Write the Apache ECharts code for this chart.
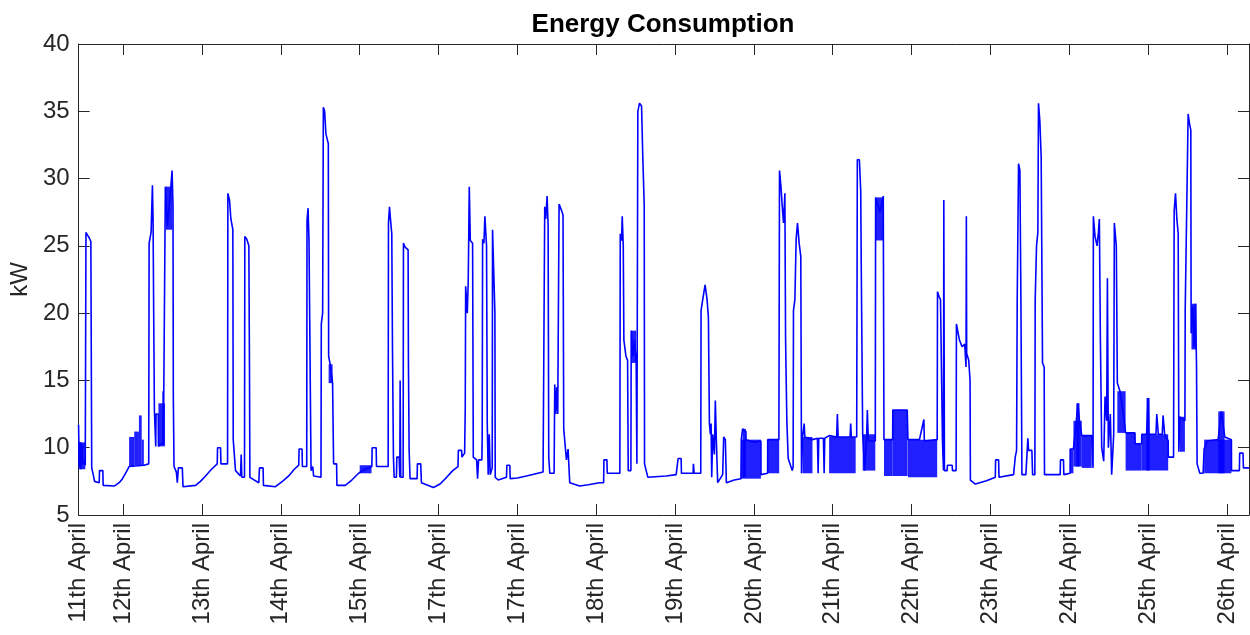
<!DOCTYPE html>
<html>
<head>
<meta charset="utf-8">
<title>Energy Consumption</title>
<script src="https://cdn.jsdelivr.net/npm/echarts@6/dist/echarts.min.js"></script>
<style>
  html, body { margin: 0; padding: 0; background: #fff; }
  #chart { width: 1250px; height: 635px; }
</style>
</head>
<body>
<div id="chart"></div>
<script>
// Time is expressed as day of April (fractional), load in kW.
const X_MIN = 11.4345;
const X_MAX = 26.28;

// Tick positions and their labels (labels kept as they appear on the axis).
const tickDays = [X_MIN, 12, 13, 14, 15, 16, 17, 18, 19, 20, 21, 22, 23, 24, 25, 26];
const tickLabels = ['11th April', '12th April', '13th April', '14th April', '15th April',
  '17th April', '17th April', '18th April', '19th April', '20th April', '21th April',
  '22th April', '23th April', '24th April', '25th April', '26th April'];

// Load profile, one list of [day, kW] readings per day.
const apr11 = [[11.434,11.7],[11.443,8.6],[11.456,10.4],[11.464,8.4],[11.477,10.3],[11.485,8.8],[11.506,9.0],[11.519,8.7],[11.527,8.7],[11.528,26.0],[11.548,25.8],[11.569,25.6],[11.59,25.3],[11.599,25.2],[11.601,8.5],[11.62,8.0],[11.637,7.5],[11.696,7.4],[11.7,8.3],[11.742,8.3],[11.746,7.2],[11.886,7.15],[11.95,7.4],[11.991,7.7]];
const apr12 = [[12.04,8.2],[12.075,8.6],[12.265,8.7],[12.324,8.8],[12.329,25.2],[12.354,26.0],[12.371,29.5],[12.379,27.0],[12.387,20.0],[12.396,12.8],[12.413,10.1],[12.417,12.5],[12.445,12.5],[12.447,10.1],[12.506,10.4],[12.507,14.2],[12.51,10.2],[12.531,10.1],[12.535,29.4],[12.561,26.5],[12.6,29.0],[12.62,30.6],[12.624,30.6],[12.632,28.0],[12.636,13.8],[12.645,8.6],[12.674,8.2],[12.687,7.4],[12.70,8.5],[12.75,8.5],[12.759,7.1],[12.919,7.2],[12.98,7.5]];
const apr13 = [[13.045,7.9],[13.12,8.4],[13.193,8.8],[13.197,10.0],[13.235,10.0],[13.24,8.8],[13.324,8.8],[13.328,28.9],[13.349,28.4],[13.366,27.0],[13.391,26.2],[13.396,10.6],[13.425,8.3],[13.488,7.9],[13.497,9.5],[13.505,7.8],[13.539,7.8],[13.543,25.7],[13.568,25.5],[13.594,25.0],[13.602,16.0],[13.607,7.8],[13.72,7.4],[13.729,8.5],[13.775,8.5],[13.779,7.2],[13.931,7.1]];
const apr14 = [[14.02,7.5],[14.1,7.9],[14.17,8.4],[14.227,8.7],[14.231,9.9],[14.269,9.9],[14.273,8.6],[14.328,8.6],[14.332,26.9],[14.345,27.8],[14.357,25.4],[14.379,25.3],[14.383,8.3],[14.404,8.6],[14.416,7.9],[14.509,7.8],[14.513,19.2],[14.53,20.0],[14.539,35.3],[14.555,35.0],[14.572,33.3],[14.602,32.6],[14.606,16.8],[14.631,16.0],[14.656,14.8],[14.669,8.8],[14.707,8.8],[14.711,7.2],[14.817,7.2],[14.9,7.6],[14.986,8.1]];
const apr15 = [[15.07,8.4],[15.154,8.6],[15.158,10.0],[15.209,10.0],[15.213,8.6],[15.361,8.6],[15.365,26.7],[15.378,27.9],[15.39,27.0],[15.407,25.9],[15.416,17.3],[15.428,9.3],[15.437,7.8],[15.466,7.8],[15.471,9.3],[15.5,9.3],[15.509,7.8],[15.513,15.0],[15.521,7.8],[15.551,7.8],[15.555,25.2],[15.576,24.9],[15.614,24.7],[15.618,16.5],[15.627,9.8],[15.639,7.7],[15.728,7.7],[15.732,8.8],[15.774,8.8],[15.783,7.4],[15.935,7.05]];
const apr16 = [[16.02,7.3],[16.103,7.8],[16.18,8.3],[16.247,8.6],[16.251,9.8],[16.293,9.8],[16.297,9.3],[16.331,9.6],[16.339,13.0],[16.344,22.0],[16.365,20.0],[16.377,22.5],[16.39,29.4],[16.403,25.4],[16.432,25.2],[16.441,9.3],[16.483,9.1],[16.495,7.7],[16.508,9.1],[16.55,9.1],[16.554,11.0],[16.559,25.5],[16.576,25.2],[16.588,27.2],[16.609,25.0],[16.618,11.8],[16.63,8.0],[16.643,11.0],[16.656,8.0],[16.681,8.5],[16.685,26.2],[16.706,26.3],[16.715,20.0],[16.719,7.8],[16.757,7.6],[16.862,7.8],[16.867,8.7],[16.904,8.7],[16.909,7.7]];
const apr17 = [[17.0,7.75],[17.115,7.9],[17.22,8.05],[17.326,8.2],[17.343,8.3],[17.347,27.9],[17.36,27.0],[17.377,28.7],[17.39,26.5],[17.398,9.3],[17.411,8.1],[17.466,8.1],[17.474,14.7],[17.487,12.5],[17.499,14.5],[17.512,12.5],[17.524,12.5],[17.529,28.1],[17.546,28.1],[17.562,27.6],[17.579,27.3],[17.588,11.4],[17.622,9.1],[17.643,9.9],[17.664,7.4],[17.79,7.15],[17.9,7.25]];
const apr18 = [[18.043,7.4],[18.094,7.4],[18.098,9.1],[18.136,9.1],[18.14,8.1],[18.3,8.1],[18.305,25.9],[18.322,25.4],[18.33,27.2],[18.343,25.0],[18.351,18.0],[18.377,16.8],[18.398,16.5],[18.406,8.3],[18.44,8.3],[18.444,18.7],[18.465,16.8],[18.486,18.0],[18.507,16.3],[18.516,8.8],[18.524,8.8],[18.528,35.0],[18.549,35.6],[18.575,35.4],[18.591,31.6],[18.609,28.0],[18.613,8.8],[18.655,7.8],[18.887,7.9]];
const apr19 = [[19.014,8.0],[19.035,8.0],[19.039,9.2],[19.077,9.2],[19.081,8.1],[19.229,8.1],[19.233,8.8],[19.242,8.1],[19.326,8.1],[19.33,20.2],[19.351,21.0],[19.381,22.1],[19.406,21.0],[19.423,19.7],[19.436,11.8],[19.448,11.0],[19.457,11.8],[19.465,7.8],[19.478,11.0],[19.499,9.5],[19.511,13.5],[19.524,10.5],[19.541,7.4],[19.604,8.0],[19.617,10.8],[19.638,10.6],[19.651,7.4],[19.75,7.6],[19.836,7.7],[19.84,10.6],[19.857,11.4],[19.899,11.2],[19.9,10.6],[20.0,10.4]];
const apr20 = [[20.089,10.5],[20.09,8.0],[20.174,8.1],[20.175,10.6],[20.317,10.6],[20.325,30.6],[20.342,29.5],[20.359,28.0],[20.376,26.7],[20.393,28.9],[20.402,18.0],[20.418,12.0],[20.435,9.2],[20.486,8.3],[20.498,8.6],[20.502,20.2],[20.52,21.0],[20.536,25.5],[20.553,26.7],[20.574,25.2],[20.595,24.2],[20.604,8.1],[20.617,10.8],[20.638,11.8],[20.646,10.8],[20.743,10.6],[20.806,10.7],[20.815,8.1],[20.823,10.7],[20.882,10.7],[20.891,8.1],[20.899,10.7],[20.954,10.9]];
const apr21 = [[21.05,10.8],[21.059,12.5],[21.068,10.8],[21.22,10.8],[21.228,11.8],[21.236,10.8],[21.304,10.8],[21.312,31.4],[21.338,31.4],[21.355,29.1],[21.363,22.7],[21.38,11.0],[21.405,8.3],[21.431,11.0],[21.439,12.8],[21.452,10.5],[21.54,10.5],[21.544,28.6],[21.6,27.5],[21.641,28.7],[21.65,10.6],[21.76,10.6],[21.762,12.8],[21.945,12.8],[21.954,10.6]];
const apr22 = [[22.1,10.6],[22.156,12.1],[22.162,10.5],[22.325,10.6],[22.329,21.6],[22.35,21.2],[22.367,21.0],[22.392,10.5],[22.405,8.3],[22.409,28.4],[22.417,8.3],[22.451,8.3],[22.455,8.7],[22.515,8.7],[22.519,8.3],[22.565,8.3],[22.569,19.2],[22.59,19.1],[22.607,18.0],[22.64,17.5],[22.674,17.7],[22.691,16.0],[22.695,27.2],[22.699,17.0],[22.725,16.5],[22.742,15.0],[22.746,7.6],[22.809,7.3],[22.95,7.55]];
const apr23 = [[23.062,7.8],[23.066,9.1],[23.104,9.1],[23.109,7.8],[23.294,8.0],[23.315,9.3],[23.332,9.8],[23.34,21.0],[23.357,31.1],[23.374,30.6],[23.387,21.0],[23.4,8.0],[23.45,8.0],[23.475,10.7],[23.484,9.8],[23.526,9.8],[23.535,8.0],[23.564,8.0],[23.568,21.0],[23.585,25.0],[23.602,26.0],[23.61,35.6],[23.627,34.3],[23.644,31.6],[23.661,16.3],[23.682,16.0],[23.686,8.0],[23.885,8.0],[23.889,9.1],[23.927,9.1],[23.931,8.0]];
const apr24 = [[24.011,8.1],[24.012,9.9],[24.053,9.9],[24.09,12.0],[24.11,13.3],[24.13,12.0],[24.159,10.9],[24.285,10.9],[24.302,8.5],[24.306,27.2],[24.327,25.7],[24.353,25.0],[24.37,26.0],[24.382,27.0],[24.395,18.0],[24.412,10.0],[24.437,9.0],[24.454,13.8],[24.475,12.0],[24.484,22.6],[24.496,10.0],[24.521,12.5],[24.538,8.0],[24.564,11.0],[24.572,26.7],[24.597,25.0],[24.61,14.8],[24.644,14.2],[24.686,12.5],[24.715,11.1],[24.834,11.1],[24.836,10.3],[24.918,10.3],[24.92,11.0],[24.981,11.0],[25.0,13.7]];
const apr25 = [[25.01,11.0],[25.1,11.0],[25.11,12.5],[25.13,11.0],[25.18,11.0],[25.19,12.4],[25.21,11.0],[25.255,10.5],[25.256,9.3],[25.323,9.3],[25.331,27.6],[25.348,28.9],[25.365,27.0],[25.382,25.9],[25.39,9.7],[25.403,12.3],[25.467,12.0],[25.471,20.3],[25.492,20.3],[25.508,34.8],[25.525,34.1],[25.542,33.6],[25.546,18.5],[25.567,20.5],[25.584,17.5],[25.601,20.7],[25.614,16.3],[25.622,8.8],[25.656,8.1],[25.698,8.1],[25.711,9.9],[25.75,10.5],[25.888,10.6],[25.93,12.7],[25.972,10.8]];
const apr26 = [[26.057,10.6],[26.058,8.3],[26.158,8.3],[26.162,9.6],[26.204,9.6],[26.209,8.5],[26.28,8.5]];

// Stretches of rapid on/off switching: [start day, end day, low kW, high kW].
const busyBlocks = [
  [11.434, 11.52, 8.4, 10.4],
  [12.075, 12.14, 8.6, 10.8],
  [12.14, 12.2, 8.7, 11.2],
  [12.2, 12.235, 8.7, 12.4],
  [12.235, 12.262, 8.7, 10.6],
  [12.447, 12.531, 10.1, 13.3],
  [12.54, 12.624, 26.2, 29.4],
  [14.606, 14.656, 14.8, 16.2],
  [15.0, 15.15, 8.1, 8.7],
  [18.444, 18.507, 16.3, 18.7],
  [19.836, 20.089, 7.7, 10.6],
  [19.857, 19.899, 7.8, 11.4],
  [20.174, 20.321, 8.1, 10.6],
  [20.617, 20.743, 8.1, 10.8],
  [20.954, 21.291, 8.1, 10.8],
  [21.38, 21.54, 8.3, 11.0],
  [21.544, 21.641, 25.4, 28.6],
  [21.65, 21.76, 7.9, 10.6],
  [21.76, 21.95, 7.9, 12.8],
  [21.954, 22.325, 7.8, 10.6],
  [24.011, 24.053, 8.1, 9.9],
  [24.053, 24.159, 8.6, 12.0],
  [24.09, 24.13, 8.6, 13.3],
  [24.159, 24.285, 8.5, 10.9],
  [24.61, 24.715, 11.1, 14.2],
  [24.715, 24.834, 8.3, 11.1],
  [24.834, 24.918, 8.3, 10.3],
  [24.918, 25.255, 8.3, 11.0],
  [24.98, 25.02, 8.3, 13.7],
  [25.403, 25.467, 9.7, 12.3],
  [25.55, 25.614, 17.3, 20.7],
  [25.711, 26.057, 8.1, 10.6],
  [25.89, 25.97, 8.1, 12.7]
];

const loadProfile = [].concat(apr11, apr12, apr13, apr14, apr15, apr16, apr17, apr18,
  apr19, apr20, apr21, apr22, apr23, apr24, apr25, apr26);

const AXIS_COLOR = '#262626';
const FONT = 'Liberation Sans, Arial, Helvetica, sans-serif';
const LINE_BLUE = '#0000ff';

function tickLabel(value) {
  for (let i = 0; i < tickDays.length; i++) {
    if (Math.abs(tickDays[i] - value) < 1e-6) return tickLabels[i];
  }
  return '';
}

const chart = echarts.init(document.getElementById('chart'), null, { renderer: 'canvas' });

const axisLine = { show: true, onZero: false, lineStyle: { color: AXIS_COLOR, width: 1 } };
const tickStyle = { color: AXIS_COLOR, width: 1 };

chart.setOption({
  animation: false,
  backgroundColor: '#ffffff',
  title: {
    text: 'Energy Consumption',
    left: 663,
    textAlign: 'center',
    top: 12,
    padding: 0,
    textStyle: { fontFamily: FONT, fontSize: 26, fontWeight: 'bold', color: '#000000' }
  },
  grid: { left: 76, right: 1, top: 44, bottom: 120, containLabel: false },
  xAxis: [
    {
      type: 'value', min: X_MIN, max: X_MAX, position: 'bottom',
      axisLine: axisLine,
      axisTick: { show: true, inside: true, length: 11, customValues: tickDays, lineStyle: tickStyle },
      axisLabel: {
        show: true, customValues: tickDays, rotate: 90, margin: 8,
        formatter: tickLabel, color: AXIS_COLOR, fontFamily: FONT, fontSize: 24
      },
      splitLine: { show: false }
    },
    {
      type: 'value', min: X_MIN, max: X_MAX, position: 'top',
      axisLine: axisLine,
      axisTick: { show: true, inside: true, length: 11, customValues: tickDays, lineStyle: tickStyle },
      axisLabel: { show: false },
      splitLine: { show: false }
    }
  ],
  yAxis: [
    {
      type: 'value', min: 5, max: 40, interval: 5, position: 'left',
      name: 'kW', nameLocation: 'middle', nameGap: 44, nameRotate: 90,
      nameTextStyle: { fontFamily: FONT, fontSize: 24, color: AXIS_COLOR },
      axisLine: axisLine,
      axisTick: { show: true, inside: true, length: 11, lineStyle: tickStyle },
      axisLabel: { show: true, margin: 9, color: AXIS_COLOR, fontFamily: FONT, fontSize: 24 },
      splitLine: { show: false }
    },
    {
      type: 'value', min: 5, max: 40, interval: 5, position: 'right',
      axisLine: axisLine,
      axisTick: { show: true, inside: true, length: 11, lineStyle: tickStyle },
      axisLabel: { show: false },
      splitLine: { show: false }
    }
  ],
  series: [
    {
      name: 'switching',
      type: 'custom',
      xAxisIndex: 0,
      yAxisIndex: 0,
      clip: true,
      data: busyBlocks,
      encode: { x: [0, 1], y: [2, 3] },
      renderItem: function (params, api) {
        const topLeft = api.coord([api.value(0), api.value(3)]);
        const bottomRight = api.coord([api.value(1), api.value(2)]);
        return {
          type: 'rect',
          shape: {
            x: topLeft[0], y: topLeft[1],
            width: bottomRight[0] - topLeft[0],
            height: bottomRight[1] - topLeft[1]
          },
          style: { fill: LINE_BLUE, opacity: 0.88 }
        };
      }
    },
    {
      name: 'Load',
      type: 'line',
      xAxisIndex: 0,
      yAxisIndex: 0,
      data: loadProfile,
      showSymbol: false,
      smooth: false,
      clip: true,
      lineStyle: { color: LINE_BLUE, width: 1.6 }
    }
  ]
});
</script>
</body>
</html>
